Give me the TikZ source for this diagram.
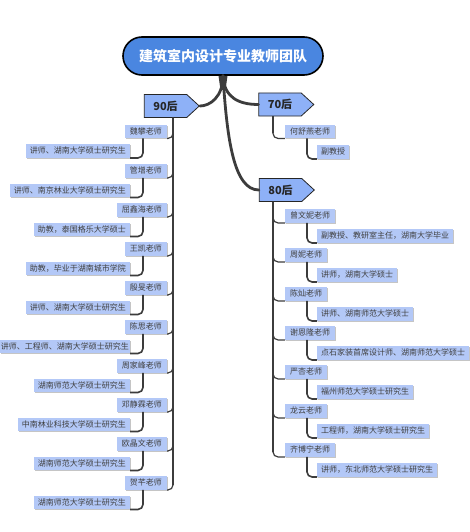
\documentclass[tikz,border=0pt]{standalone}
\usepackage{fontspec}
\newfontfamily\cjk{Noto Sans CJK SC}
\usetikzlibrary{shapes.symbols,shadows}
\definecolor{rootblue}{HTML}{4A86E0}
\definecolor{grpblue}{HTML}{8EB1F7}
\definecolor{boxblue}{HTML}{B3C8F7}
\definecolor{linegray}{HTML}{3C3C3C}
\tikzset{
  rootbox/.style={draw=black, line width=1.6pt, fill=rootblue, rounded corners=19pt,
    minimum width=200pt, minimum height=38pt, inner sep=0pt,
    font=\cjk\fontsize{14}{16}\selectfont\bfseries, text=white},
  grpbox/.style={signal, signal to=east, signal from=nowhere, signal pointer angle=85,
    draw=black!85, line width=0.8pt, fill=grpblue, minimum width=55pt, minimum height=23pt,
    inner sep=2pt, font=\cjk\fontsize{11}{13}\selectfont\bfseries, text=black!85},
  tbox/.style={fill=boxblue, font=\cjk\fontsize{8}{9}\selectfont, text=black!75,
    inner xsep=5pt, inner ysep=2.5pt, text height=7pt, text depth=1.5pt,
    drop shadow={shadow xshift=0.8pt, shadow yshift=-0.8pt, fill=black!45, opacity=0.5}},
  dbox/.style={tbox, inner xsep=4pt},
  mainline/.style={draw=linegray, line width=2.8pt, line cap=round},
  trunkline/.style={draw=linegray, line width=2.8pt},
  tline/.style={draw=linegray, line width=1.2pt, rounded corners=5pt},
  dline/.style={draw=linegray, line width=1.6pt, rounded corners=5pt},
}
\begin{document}
\begin{tikzpicture}[x=1pt,y=-1pt]
\fill[white] (0,0) rectangle (470,532);
\useasboundingbox (0,0) rectangle (470,532);

% root and groups
\node[rootbox] (root) at (223,56) {建筑室内设计专业教师团队};
\node[grpbox] (g90) at (165.5,106) {90后};
\node[grpbox] (g70) at (280,104.5) {70后};
\node[grpbox] (g80) at (280.5,190) {80后};

% stem and main branches
\fill[linegray] ([xshift=-4.5pt]root.south) -- ([xshift=4.5pt]root.south) -- (225.5,90) -- (220.5,90) -- cycle;
\draw[mainline] (root.south) .. controls (223,97) and (210,106) .. (g90.east);
\draw[mainline] (root.south) .. controls (224,97) and (238,104.5) .. (g70.west);
\draw[mainline] (root.south) .. controls (227,140) and (234,190) .. (g80.west);

\coordinate (lx) at (173,0);
\coordinate (rx) at (273,0);

% 90后 teachers
\foreach \i/\y/\n/\d/\s in {
  1/131.5/魏攀老师/讲师、湖南大学硕士研究生/4pt,
  2/171/管增老师/讲师、南京林业大学硕士研究生/4pt,
  3/210/屈鑫海老师/助教，泰国格乐大学硕士/4pt,
  4/249/王凯老师/助教，毕业于湖南城市学院/4pt,
  5/288/殷旻老师/讲师、湖南大学硕士研究生/4pt,
  6/327/陈思老师/讲师、工程师、湖南大学硕士研究生/1pt,
  7/366/周家峰老师/湖南师范大学硕士研究生/4pt,
  8/405/邓静霖老师/中南林业科技大学硕士研究生/4pt,
  9/444/欧晶文老师/湖南师范大学硕士研究生/4pt,
  10/483/贺芊老师/湖南师范大学硕士研究生/4pt}{
  \node[tbox, anchor=east] (t\i) at (167,\y) {\n};
  \node[dbox, inner xsep=\s, anchor=east] (d\i) at (130,\y+19.5) {\d};
  \draw[tline] (g90.south -| lx) |- (t\i.south east);
  \draw[dline] ([xshift=-24pt]t\i.south east) |- (d\i.south east);
}
\draw[trunkline] (g90.south -| lx) -- ([yshift=5pt]lx |- t10.south east);

% 70后
\node[tbox, anchor=west] (r1) at (285,131.5) {何舒燕老师};
\node[dbox, anchor=west] (rd1) at (317,152) {副教授};
\draw[tline] (g70.south -| rx) |- (r1.south west);
\draw[trunkline] (g70.south -| rx) -- ([yshift=5pt]rx |- r1.south west);
\draw[dline] ([xshift=22pt]r1.south west) |- (rd1.south west);

% 80后 teachers
\foreach \i/\y/\n/\d in {
  1/216/曾文妮老师/副教授、教研室主任，湖南大学毕业,
  2/255/周妮老师/讲师，湖南大学硕士,
  3/294/陈灿老师/讲师、湖南师范大学硕士,
  4/333/谢恩隆老师/点石家装首席设计师、湖南师范大学硕士,
  5/372/严杏老师/福州师范大学硕士研究生,
  6/411/龙云老师/工程师，湖南大学硕士研究生,
  7/450/齐博宁老师/讲师，东北师范大学硕士研究生}{
  \node[tbox, anchor=west] (s\i) at (285,\y) {\n};
  \node[dbox, anchor=west] (sd\i) at (317,\y+20) {\d};
  \draw[tline] (g80.south -| rx) |- (s\i.south west);
  \draw[dline] ([xshift=22pt]s\i.south west) |- (sd\i.south west);
}
\draw[trunkline] (g80.south -| rx) -- ([yshift=5pt]rx |- s7.south west);
\end{tikzpicture}
\end{document}
